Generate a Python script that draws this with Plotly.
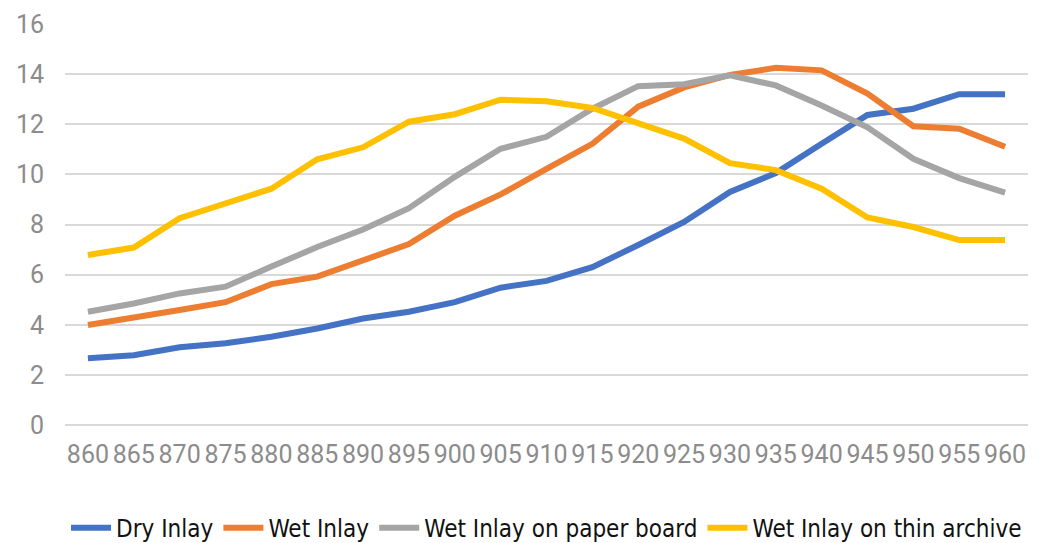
import plotly.graph_objects as go

wavelengths = ["860", "865", "870", "875", "880", "885", "890", "895", "900", "905",
               "910", "915", "920", "925", "930", "935", "940", "945", "950", "955", "960"]

dry_inlay = [2.66, 2.78, 3.1, 3.26, 3.52, 3.85, 4.25, 4.52, 4.9, 5.48,
             5.75, 6.3, 7.18, 8.1, 9.3, 10.05, 11.22, 12.37, 12.62, 13.2, 13.2]
wet_inlay = [3.99, 4.32, 4.59, 4.9, 5.62, 5.92, 6.6, 7.22, 8.35, 9.2,
             10.22, 11.22, 12.7, 13.47, 13.97, 14.25, 14.15, 13.22, 11.92, 11.82, 11.1]
wet_paper_board = [4.52, 4.85, 5.25, 5.52, 6.32, 7.1, 7.8, 8.65, 9.9, 11.02,
                   11.5, 12.62, 13.52, 13.6, 13.95, 13.55, 12.75, 11.88, 10.62, 9.85, 9.27]
wet_thin_archive = [6.78, 7.08, 8.25, 8.85, 9.43, 10.6, 11.08, 12.1, 12.4, 12.98,
                    12.92, 12.65, 12.05, 11.43, 10.45, 10.17, 9.43, 8.28, 7.9, 7.38, 7.38]

series_names = ["Dry Inlay", "Wet Inlay", "Wet Inlay on paper board", "Wet Inlay on thin archive"]
series_values = [dry_inlay, wet_inlay, wet_paper_board, wet_thin_archive]
colors = ["#4472C4", "#ED7D31", "#A5A5A5", "#FFC000"]

y_ticks = [0, 2, 4, 6, 8, 10, 12, 14, 16]

fig = go.Figure()
for name, vals, col in zip(series_names, series_values, colors):
    fig.add_trace(go.Scatter(
        x=wavelengths, y=vals, name=name, mode="lines",
        line=dict(color=col, width=6),
    ))

tick_font = dict(family="Roboto, Noto Sans, sans-serif", size=25, color="#8C8C8C")

# page body has an 8px default margin; size the figure so it fits the window
fig.update_layout(
    width=1045, height=535,
    margin=dict(l=57, r=25, t=16, b=118, autoexpand=False),
    paper_bgcolor="white", plot_bgcolor="white",
    showlegend=True,
    legend=dict(
        orientation="h",
        x=0.5, xanchor="center", y=-0.257, yanchor="middle",
        font=dict(family="Liberation Sans Narrow, DejaVu Sans Condensed, Roboto Condensed, Arial Narrow, Roboto, sans-serif",
                  size=24, color="#111111"),
        itemwidth=40,
        tracegroupgap=0,
    ),
    xaxis=dict(
        type="category",
        range=[-0.5, len(wavelengths) - 0.5],
        showgrid=False, showline=False, zeroline=False,
        ticks="", tickfont=tick_font,
        ticklabelstandoff=12,
        automargin=False,
    ),
    yaxis=dict(
        range=[0, 16], tickvals=y_ticks,
        showgrid=True, gridcolor="#D9D9D9", gridwidth=1.5,
        zeroline=True, zerolinecolor="#D9D9D9", zerolinewidth=1.5,
        showline=False, ticks="", tickfont=tick_font,
        ticklabelstandoff=20,
        automargin=False,
    ),
)

fig.write_html("out.html")
